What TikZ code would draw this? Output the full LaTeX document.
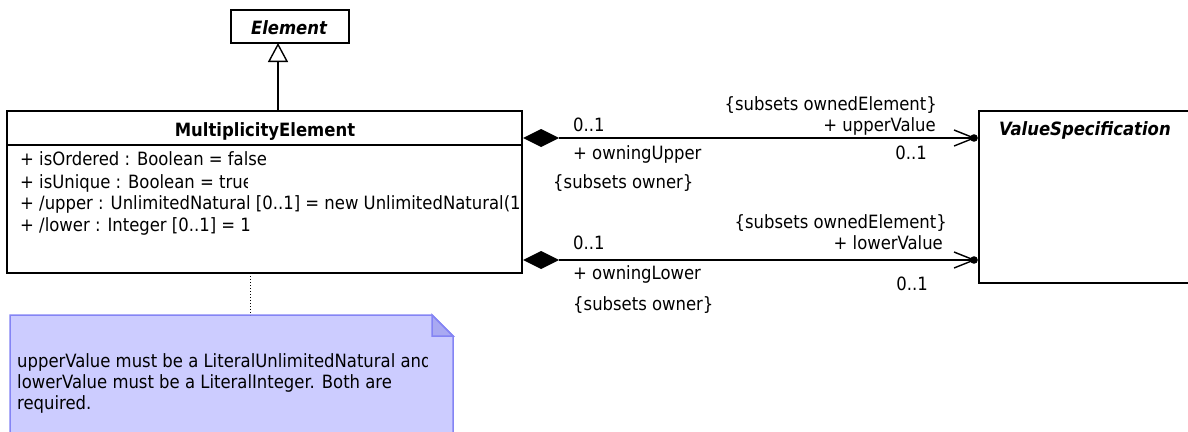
\documentclass[tikz,border=0pt]{standalone}
\usepackage{fontspec}
\setmainfont{DejaVu Sans Condensed}
\usetikzlibrary{arrows.meta}
\definecolor{notefill}{HTML}{CCCCFF}
\definecolor{noteline}{HTML}{8484F4}
\definecolor{notefold}{HTML}{A9A9F2}
\newcommand{\dfont}{\fontsize{18.3}{21}\selectfont}
\begin{document}
\begin{tikzpicture}[x=1pt,y=-1pt,
  txt/.style={inner sep=0pt, font=\dfont, text height=13pt, text depth=0pt},
  lw/.style={line width=1.6pt},
  box/.style={draw, lw},
  gen/.style={lw, -{Triangle[open, length=19pt, width=20pt, line width=1.4pt]}},
  assoc/.style={lw},
  diam/.style={fill=black},
  barb/.style={line width=1.4pt},
  notebox/.style={draw=noteline, fill=notefill, line width=1.5pt},
]
\useasboundingbox (0,0) rectangle (1188,431);
\clip (0,0) rectangle (1188,431);

% classes
\draw[box] (231,10) rectangle (349,43);
\node[txt, font=\dfont\bfseries\itshape] (element) at (289,28) {Element};
\coordinate (elbot) at (278,43);

\draw[box] (7,111) rectangle (522,273);
\draw[lw] (7,145) -- (522,145);
\node[txt, font=\dfont\bfseries] (me) at (265,130) {MultiplicityElement};
\coordinate (metop) at (278,111);
\coordinate (mebot) at (250,273);

\node[txt, anchor=west] (a1) at (20,159) {+ isOrdered : Boolean = false};
\begin{scope}
\clip (7,168) rectangle (247,194);
\node[txt, anchor=west] (a2) at (20,182) {+ isUnique : Boolean = true};
\end{scope}
\begin{scope}
\clip (7,190) rectangle (519,215);
\node[txt, anchor=west] (a3) at (20,203) {+ /upper : UnlimitedNatural [0..1] = new UnlimitedNatural(1)};
\end{scope}
\node[txt, anchor=west] (a4) at (20,225) {+ /lower : Integer [0..1] = 1};

\draw[box] (979,111) rectangle (1195,283);
\node[txt, anchor=west, font=\dfont\bfseries\itshape] (vs) at (999,129) {ValueSpecification};

% generalization
\draw[gen] (metop) -- (elbot);

% associations
\coordinate (u1) at (523,138);
\coordinate (u2) at (974,138);
\coordinate (l1) at (523,260);
\coordinate (l2) at (974,260);

\foreach \a/\b in {u1/u2, l1/l2}{
  \draw[assoc] ([xshift=36pt]\a) -- (\b);
  \fill[diam] (\a) -- ++(18,-9) -- ++(18,9) -- ++(-18,9) -- cycle;
  \draw[barb] ([xshift=-20pt,yshift=-8pt]\b) -- (\b) -- ([xshift=-20pt,yshift=8pt]\b);
  \fill (\b) circle (3.8pt);
}

\node[txt, anchor=west] (u1m) at (573,125) {0..1};
\node[txt, anchor=west] (u1r) at (573,153) {+ owningUpper};
\node[txt, anchor=west] (u1c) at (553,182) {\{subsets owner\}};
\node[txt, anchor=east] (u2c) at (937,104) {\{subsets ownedElement\}};
\node[txt, anchor=east] (u2r) at (936,125) {+ upperValue};
\node[txt, anchor=east] (u2m) at (927,153) {0..1};

\node[txt, anchor=west] (l1m) at (573,243) {0..1};
\node[txt, anchor=west] (l1r) at (573,273) {+ owningLower};
\node[txt, anchor=west] (l1c) at (573,304) {\{subsets owner\}};
\node[txt, anchor=east] (l2c) at (947,222) {\{subsets ownedElement\}};
\node[txt, anchor=east] (l2r) at (943,243) {+ lowerValue};
\node[txt, anchor=east] (l2m) at (928,284) {0..1};

% note
\draw[notebox] (10,315) -- (432,315) -- (453,336) -- (453,445) -- (10,445) -- cycle;
\draw[notebox, fill=notefold] (432,315) -- (432,336) -- (453,336) -- cycle;
\coordinate (notetop) at (250,315);
\draw[dotted, line width=1pt] (mebot) -- (notetop);
\begin{scope}
\clip (10,345) rectangle (427,373);
\node[txt, anchor=west] (n1) at (17,361) {upperValue must be a LiteralUnlimitedNatural and};
\end{scope}
\node[txt, anchor=west] (n2) at (17,382) {lowerValue must be a LiteralInteger. Both are};
\node[txt, anchor=west] (n3) at (17,403) {required.};
\end{tikzpicture}
\end{document}
